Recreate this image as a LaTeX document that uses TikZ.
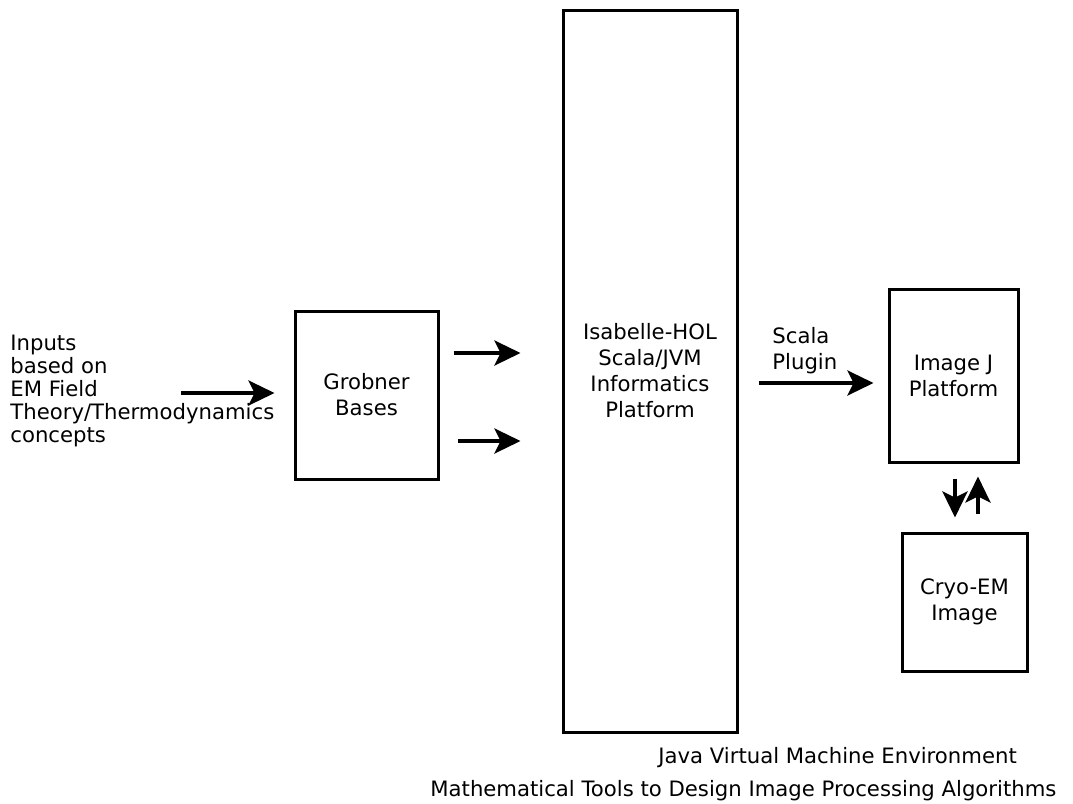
\documentclass[tikz,border=0pt]{standalone}
\usepackage{fontspec}
\setmainfont{DejaVu Sans}
\usetikzlibrary{arrows.meta,positioning}
\tikzset{
  blk/.style={draw, line width=1.5pt, inner sep=0pt, align=center, font=\fontsize{10.6}{13}\selectfont},
  arr/.style={-{Stealth[length=13pt,width=12.5pt,inset=3pt]}, line width=1.7pt},
  txt/.style={inner sep=0pt, align=left, font=\fontsize{10.6}{11.6}\selectfont},
}
\begin{document}
\begin{tikzpicture}[x=0.5pt,y=-0.5pt]
    \useasboundingbox[fill=white] (0,0) rectangle (1073,804);
    % blocks
    \node[blk, minimum width=71.5pt, minimum height=84pt] (grob) at (366.5,395) {Grobner\\Bases};
    \node[blk, minimum width=87pt, minimum height=361pt] (isa) at (650,371) {Isabelle-HOL\\Scala/JVM\\Informatics\\Platform};
    \node[blk, minimum width=64.5pt, minimum height=86.5pt] (imgj) at (953.5,375.5) {Image J\\Platform};
    \node[blk, minimum width=62.5pt, minimum height=69pt] (cryo) at (964.5,602) {Cryo-EM\\Image};
    % labels
    \node[txt, anchor=west] (inp) at (10,391) {Inputs\\based on\\EM Field\\Theory/Thermodynamics\\concepts};
    \node[txt, anchor=west, font=\fontsize{10.6}{13}\selectfont] (plug) at (772,351) {Scala\\Plugin};
    \node[txt, anchor=west] (jvm) at (658,758) {Java Virtual Machine Environment};
    \node[txt, anchor=west] (tools) at (430,791) {Mathematical Tools to Design Image Processing Algorithms};
    % arrows
    \coordinate (inA) at (181,393);
    \draw[arr] (inA) -- ([xshift=-9.5pt]grob.west |- inA);
    \draw[arr] ([xshift=7pt]grob.east |- 0,353) -- ([xshift=-20.5pt]isa.west |- 0,353);
    \draw[arr] ([xshift=9pt]grob.east |- 0,441) -- ([xshift=-20.5pt]isa.west |- 0,441);
    \draw[arr] ([xshift=10pt]isa.east |- 0,383) -- ([xshift=-7pt]imgj.west |- 0,383);
    \draw[arr] ([yshift=-7.5pt]imgj.south -| 955,0) -- ([yshift=7pt]cryo.north -| 955,0);
    \draw[arr] ([yshift=9pt]cryo.north -| 978,0) -- ([yshift=-6.5pt]imgj.south -| 978,0);
\end{tikzpicture}
\end{document}
